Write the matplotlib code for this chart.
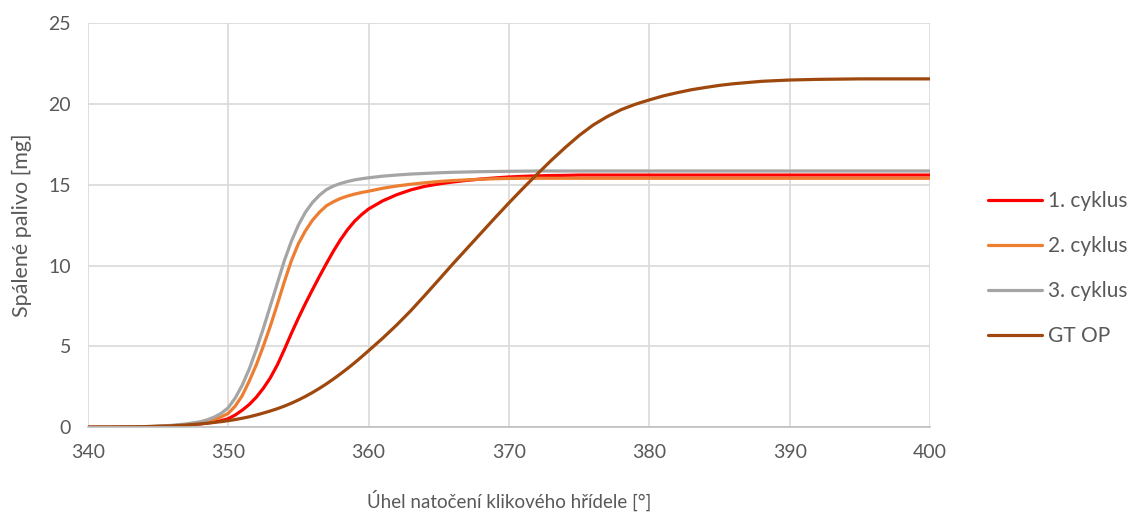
import matplotlib
matplotlib.use("Agg")
import matplotlib.pyplot as plt

# crank angle [deg]
angle = [340, 342, 344, 345, 346, 347,
         348, 348.5, 349, 349.5, 350, 350.5, 351, 351.5, 352, 352.5, 353, 353.5,
         354, 354.5, 355, 355.5, 356, 356.5, 357, 357.5, 358, 358.5, 359, 359.5, 360,
         361, 362, 363, 364, 365, 366, 367, 368, 369, 370, 371, 372, 373, 374, 375,
         376, 377, 378, 379, 380, 381, 382, 383, 384, 385, 386,
         388, 390, 392, 395, 400]

# burned fuel mass [mg]
cycle1 = [0.0, 0.0, 0.02, 0.04, 0.07, 0.12,
          0.2, 0.25, 0.32, 0.4, 0.52, 0.75, 1.05, 1.4, 1.85, 2.4, 3.05, 3.85,
          4.8, 5.8, 6.75, 7.65, 8.5, 9.33, 10.13, 10.9, 11.6, 12.22, 12.74, 13.15, 13.5,
          14.0, 14.38, 14.68, 14.9, 15.05, 15.17, 15.27, 15.35, 15.42, 15.48, 15.52, 15.55, 15.57, 15.58, 15.6,
          15.6, 15.6, 15.6, 15.6, 15.6, 15.6, 15.6, 15.6, 15.6, 15.6, 15.6,
          15.6, 15.6, 15.6, 15.6, 15.6]
cycle2 = [0.0, 0.0, 0.02, 0.05, 0.09, 0.15,
          0.27, 0.35, 0.48, 0.63, 0.85, 1.3, 1.95, 2.85, 3.85, 5.0, 6.25, 7.6,
          9.0, 10.3, 11.35, 12.15, 12.8, 13.3, 13.7, 13.95, 14.15, 14.3, 14.42, 14.52, 14.6,
          14.78, 14.92, 15.03, 15.12, 15.2, 15.26, 15.3, 15.34, 15.37, 15.39, 15.4, 15.4, 15.4, 15.4, 15.4,
          15.4, 15.4, 15.4, 15.4, 15.4, 15.4, 15.4, 15.4, 15.4, 15.4, 15.4,
          15.4, 15.4, 15.4, 15.4, 15.4]
cycle3 = [0.0, 0.0, 0.03, 0.06, 0.11, 0.2,
          0.33, 0.45, 0.62, 0.85, 1.2, 1.8, 2.6, 3.6, 4.8, 6.1, 7.5, 8.9,
          10.3, 11.5, 12.5, 13.3, 13.9, 14.35, 14.7, 14.92, 15.08, 15.2, 15.3, 15.37, 15.43,
          15.53, 15.6, 15.66, 15.7, 15.74, 15.77, 15.79, 15.81, 15.82, 15.83, 15.84, 15.85, 15.85, 15.85, 15.85,
          15.85, 15.85, 15.85, 15.85, 15.85, 15.85, 15.85, 15.85, 15.85, 15.85, 15.85,
          15.85, 15.85, 15.85, 15.85, 15.85]
gt_op = [0.0, 0.01, 0.03, 0.05, 0.08, 0.13,
         0.2, 0.24, 0.29, 0.34, 0.4, 0.47, 0.55, 0.64, 0.75, 0.87, 1.0, 1.14,
         1.3, 1.48, 1.68, 1.9, 2.14, 2.4, 2.68, 2.98, 3.3, 3.63, 3.98, 4.35, 4.73,
         5.5, 6.32, 7.2, 8.15, 9.12, 10.1, 11.05, 12.0, 12.95, 13.88, 14.78, 15.65, 16.5, 17.3, 18.05,
         18.7, 19.22, 19.65, 19.98, 20.25, 20.5, 20.7, 20.88, 21.02, 21.15, 21.25,
         21.4, 21.48, 21.52, 21.55, 21.55]

labels = ["1. cyklus", "2. cyklus", "3. cyklus", "GT OP"]
colors = ["#ff0000", "#ed7d31", "#a5a5a5", "#9e480e"]
xticks = [340, 350, 360, 370, 380, 390, 400]
yticks = [0, 5, 10, 15, 20, 25]

plt.rcParams["font.family"] = ["Lato", "DejaVu Sans"]
text_color = "#595959"

fig = plt.figure(figsize=(11.4, 5.14), dpi=100)
ax = fig.add_axes([0.077, 0.169, 0.739, 0.786])

for series, lab, col in zip([cycle1, cycle2, cycle3, gt_op], labels, colors):
    ax.plot(angle, series, color=col, lw=2.3, label=lab,
            solid_capstyle="round", solid_joinstyle="round")

ax.set_xlim(340, 400)
ax.set_ylim(0, 25)
ax.set_xticks(xticks)
ax.set_yticks(yticks)
ax.grid(True, color="#d9d9d9", lw=1.2)
ax.set_axisbelow(True)
for side in ["top", "right", "left"]:
    ax.spines[side].set_visible(False)
ax.spines["bottom"].set_color("#bfbfbf")
ax.spines["bottom"].set_linewidth(1.2)
ax.tick_params(length=0, labelsize=14, colors=text_color, pad=12)

ax.set_xlabel("Úhel natočení klikového hřídele [°]", fontsize=13.5, color=text_color, labelpad=21)
ax.set_ylabel("Spálené palivo [mg]", fontsize=15.5, color=text_color, labelpad=12)

leg = ax.legend(loc="center left", bbox_to_anchor=(0.859, 0.478), bbox_transform=fig.transFigure,
                frameon=False, fontsize=15, handlelength=2.6, handletextpad=0.3,
                labelspacing=1.2, borderaxespad=0)
for t in leg.get_texts():
    t.set_color(text_color)

fig.savefig("out.png", dpi=100)
